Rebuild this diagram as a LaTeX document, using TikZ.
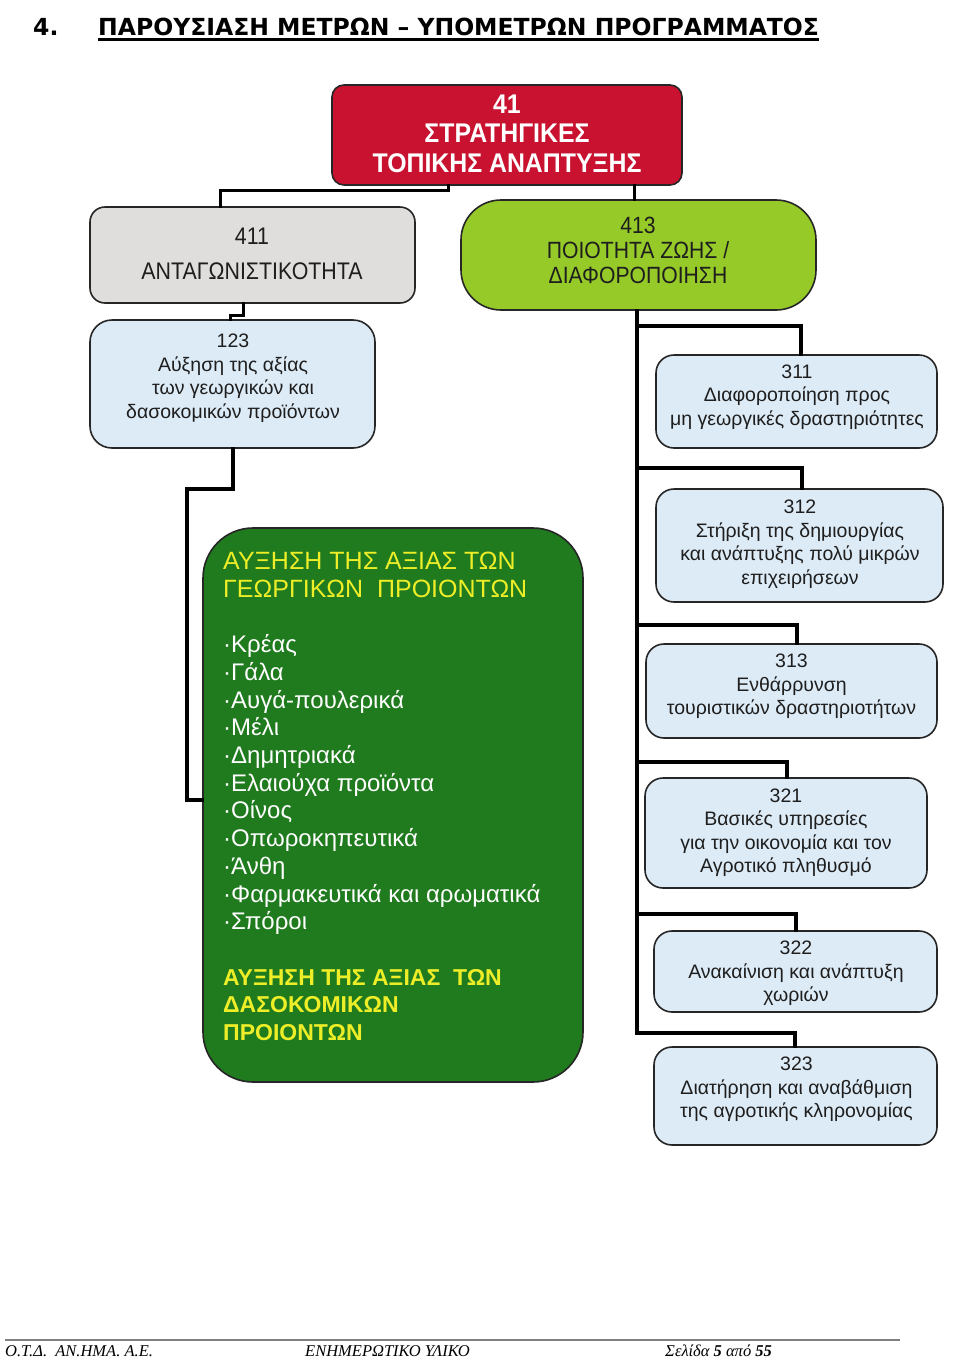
\documentclass[tikz,border=0pt]{standalone}
\usepackage{fontspec}
\setmainfont{Liberation Sans}
\newfontfamily\nA[FakeStretch=0.92]{Liberation Sans}
\newfontfamily\nB[FakeStretch=0.89]{Liberation Sans}
\newfontfamily\nC[FakeStretch=0.90]{Liberation Sans}
\newfontfamily\titlefont{DejaVu Sans}
\newfontfamily\footfont{Liberation Serif}
\usetikzlibrary{calc}
\definecolor{redbox}{RGB}{200,18,48}
\definecolor{graybox}{RGB}{224,222,220}
\definecolor{limebox}{RGB}{150,202,40}
\definecolor{boxblue}{RGB}{221,235,246}
\definecolor{darkgreen}{RGB}{32,122,30}
\definecolor{yel}{RGB}{238,238,40}
\definecolor{txt}{RGB}{30,30,30}
\tikzset{
  conn/.style={draw=black, line width=4pt, line join=miter, line cap=rect},
  connthin/.style={draw=black, line width=3pt, line join=miter, line cap=rect},
  boxbase/.style={draw=black!85, line width=1.6pt, inner sep=0pt},
  bluebox/.style={boxbase, fill=boxblue, rounded corners=18pt},
  bluetext/.style={inner sep=0pt, align=center, text=txt, font=\fontsize{19.5}{23.5}\selectfont},
  titletext/.style={anchor=base west, inner sep=0pt, font=\titlefont\bfseries\fontsize{23.5}{28}\selectfont},
}
\begin{document}
\begin{tikzpicture}[x=1pt,y=-1pt]
\useasboundingbox[fill=white] (0,0) rectangle (960,1358);

% title
\node[titletext] (tnum) at (33,35) {4.};
\node[titletext] (title) at (98,35) {ΠΑΡΟΥΣΙΑΣΗ ΜΕΤΡΩΝ – ΥΠΟΜΕΤΡΩΝ ΠΡΟΓΡΑΜΜΑΤΟΣ};
\draw[line width=2.5pt] ([yshift=-4.5pt]title.base west) -- ([yshift=-4.5pt]title.base east);

% main boxes
\node[boxbase, fill=redbox, rounded corners=12pt, minimum width=350pt, minimum height=100pt] (n41) at (507,135) {};
\node[inner sep=0pt, align=center, text=white, font=\nA\bfseries\fontsize{27}{29.5}\selectfont] (t41) at (507,133.5) {41\\ΣΤΡΑΤΗΓΙΚΕΣ\\ΤΟΠΙΚΗΣ ΑΝΑΠΤΥΞΗΣ};

\node[boxbase, fill=graybox, rounded corners=15pt, minimum width=325pt, minimum height=96pt] (n411) at (252.5,255) {};
\node[inner sep=0pt, align=center, text=txt, font=\nB\fontsize{24}{35}\selectfont] (t411) at (252,253.5) {411\\ΑΝΤΑΓΩΝΙΣΤΙΚΟΤΗΤΑ};

\node[boxbase, fill=limebox, rounded corners=40pt, minimum width=355pt, minimum height=110pt] (n413) at (638.5,255) {};
\node[inner sep=0pt, align=center, text=txt, font=\nC\fontsize{23.5}{25}\selectfont] (t413) at (638,250) {413\\ΠΟΙΟΤΗΤΑ ΖΩΗΣ /\\ΔΙΑΦΟΡΟΠΟΙΗΣΗ};

\node[bluebox, rounded corners=22pt, minimum width=285pt, minimum height=128pt] (n123) at (232.5,384) {};
\node[bluetext] (t123) at (233,378) {123\\Αύξηση της αξίας\\των γεωργικών και\\δασοκομικών προϊόντων};

% green box
\node[boxbase, fill=darkgreen, rounded corners=50pt, minimum width=380pt, minimum height=554pt] (ngreen) at (393,805) {};
\node[anchor=north west, inner sep=0pt, align=left, text=white, font=\fontsize{24}{27.7}\selectfont] (tgreen) at (223,552) {%
{\color{yel}\fontsize{25}{27.7}\selectfont ΑΥΞΗΣΗ ΤΗΣ ΑΞΙΑΣ ΤΩΝ}\\
{\color{yel}\fontsize{25}{27.7}\selectfont ΓΕΩΡΓΙΚΩΝ\ \ ΠΡΟΙΟΝΤΩΝ}\\[27.7pt]
·Κρέας\\
·Γάλα\\
·Αυγά-πουλερικά\\
·Μέλι\\
·Δημητριακά\\
·Ελαιούχα προϊόντα\\
·Οίνος\\
·Οπωροκηπευτικά\\
·Άνθη\\
·Φαρμακευτικά και αρωματικά\\
·Σπόροι\\[27.7pt]
{\color{yel}\bfseries\fontsize{23}{27.7}\selectfont ΑΥΞΗΣΗ ΤΗΣ ΑΞΙΑΣ\ \ ΤΩΝ}\\
{\color{yel}\bfseries\fontsize{23}{27.7}\selectfont ΔΑΣΟΚΟΜΙΚΩΝ}\\
{\color{yel}\bfseries\fontsize{23}{27.7}\selectfont ΠΡΟΙΟΝΤΩΝ}};

% right boxes
\node[bluebox, minimum width=281pt, minimum height=93pt] (n311) at (796.5,401.5) {};
\node[bluetext] (t311) at (797,397) {311\\Διαφοροποίηση προς\\μη γεωργικές δραστηριότητες};
\node[bluebox, minimum width=287pt, minimum height=113pt] (n312) at (799.5,545.5) {};
\node[bluetext] (t312) at (800,544) {312\\Στήριξη της δημιουργίας\\και ανάπτυξης πολύ μικρών\\επιχειρήσεων};
\node[bluebox, minimum width=291pt, minimum height=94pt] (n313) at (791.5,691) {};
\node[bluetext] (t313) at (791.5,686.5) {313\\Ενθάρρυνση\\τουριστικών δραστηριοτήτων};
\node[bluebox, minimum width=282pt, minimum height=110pt] (n321) at (786,833) {};
\node[bluetext] (t321) at (786,832.5) {321\\Βασικές υπηρεσίες\\για την οικονομία και τον\\Αγροτικό πληθυσμό};
\node[bluebox, minimum width=283pt, minimum height=81pt] (n322) at (795.5,971.5) {};
\node[bluetext] (t322) at (796,973.5) {322\\Ανακαίνιση και ανάπτυξη\\χωριών};
\node[bluebox, minimum width=283pt, minimum height=98pt] (n323) at (795.5,1096) {};
\node[bluetext] (t323) at (796.5,1089.5) {323\\Διατήρηση και αναβάθμιση\\της αγροτικής κληρονομίας};

% connectors
\draw[connthin] ([xshift=-59pt]n41.south) -- ++(0,5) -| ([xshift=-32.5pt]n411.north);
\draw[connthin] ([xshift=-4pt]n413.north |- n41.south) -- ([xshift=-4pt]n413.north);
\draw[connthin] ([xshift=-9.5pt]n411.south) -- ++(0,12) -| ([xshift=-2.5pt]n123.north);
\draw[conn] (n123.south) -- ++(0,40) -| ([xshift=-15pt,yshift=5pt]ngreen.west) -- ([yshift=5pt]ngreen.west);

\coordinate (b311) at (801,326);
\coordinate (b312) at (802,468);
\coordinate (b313) at (797,625);
\coordinate (b321) at (787,762);
\coordinate (b322) at (796,914);
\coordinate (b323) at (795,1033);
\foreach \k in {311,312,313,321,322,323}{
  \draw[conn] ([xshift=-2pt]n413.south) |- (b\k) -- (b\k |- n\k.north);
}

% footer
\draw[gray, line width=2pt] (5,1339.5) -- (900,1339.5);
\node[anchor=base west, inner sep=0pt, font=\footfont\itshape\fontsize{16.5}{18}\selectfont] (f1) at (5,1356) {Ο.Τ.Δ.\ \ ΑΝ.ΗΜΑ. Α.Ε.};
\node[anchor=base west, inner sep=0pt, font=\footfont\itshape\fontsize{16.5}{18}\selectfont] (f2) at (305,1356) {ΕΝΗΜΕΡΩΤΙΚΟ ΥΛΙΚΟ};
\node[anchor=base west, inner sep=0pt, font=\footfont\itshape\fontsize{16.5}{18}\selectfont] (f3) at (665,1356) {Σελίδα \textbf{5} από \textbf{55}};
\end{tikzpicture}
\end{document}
